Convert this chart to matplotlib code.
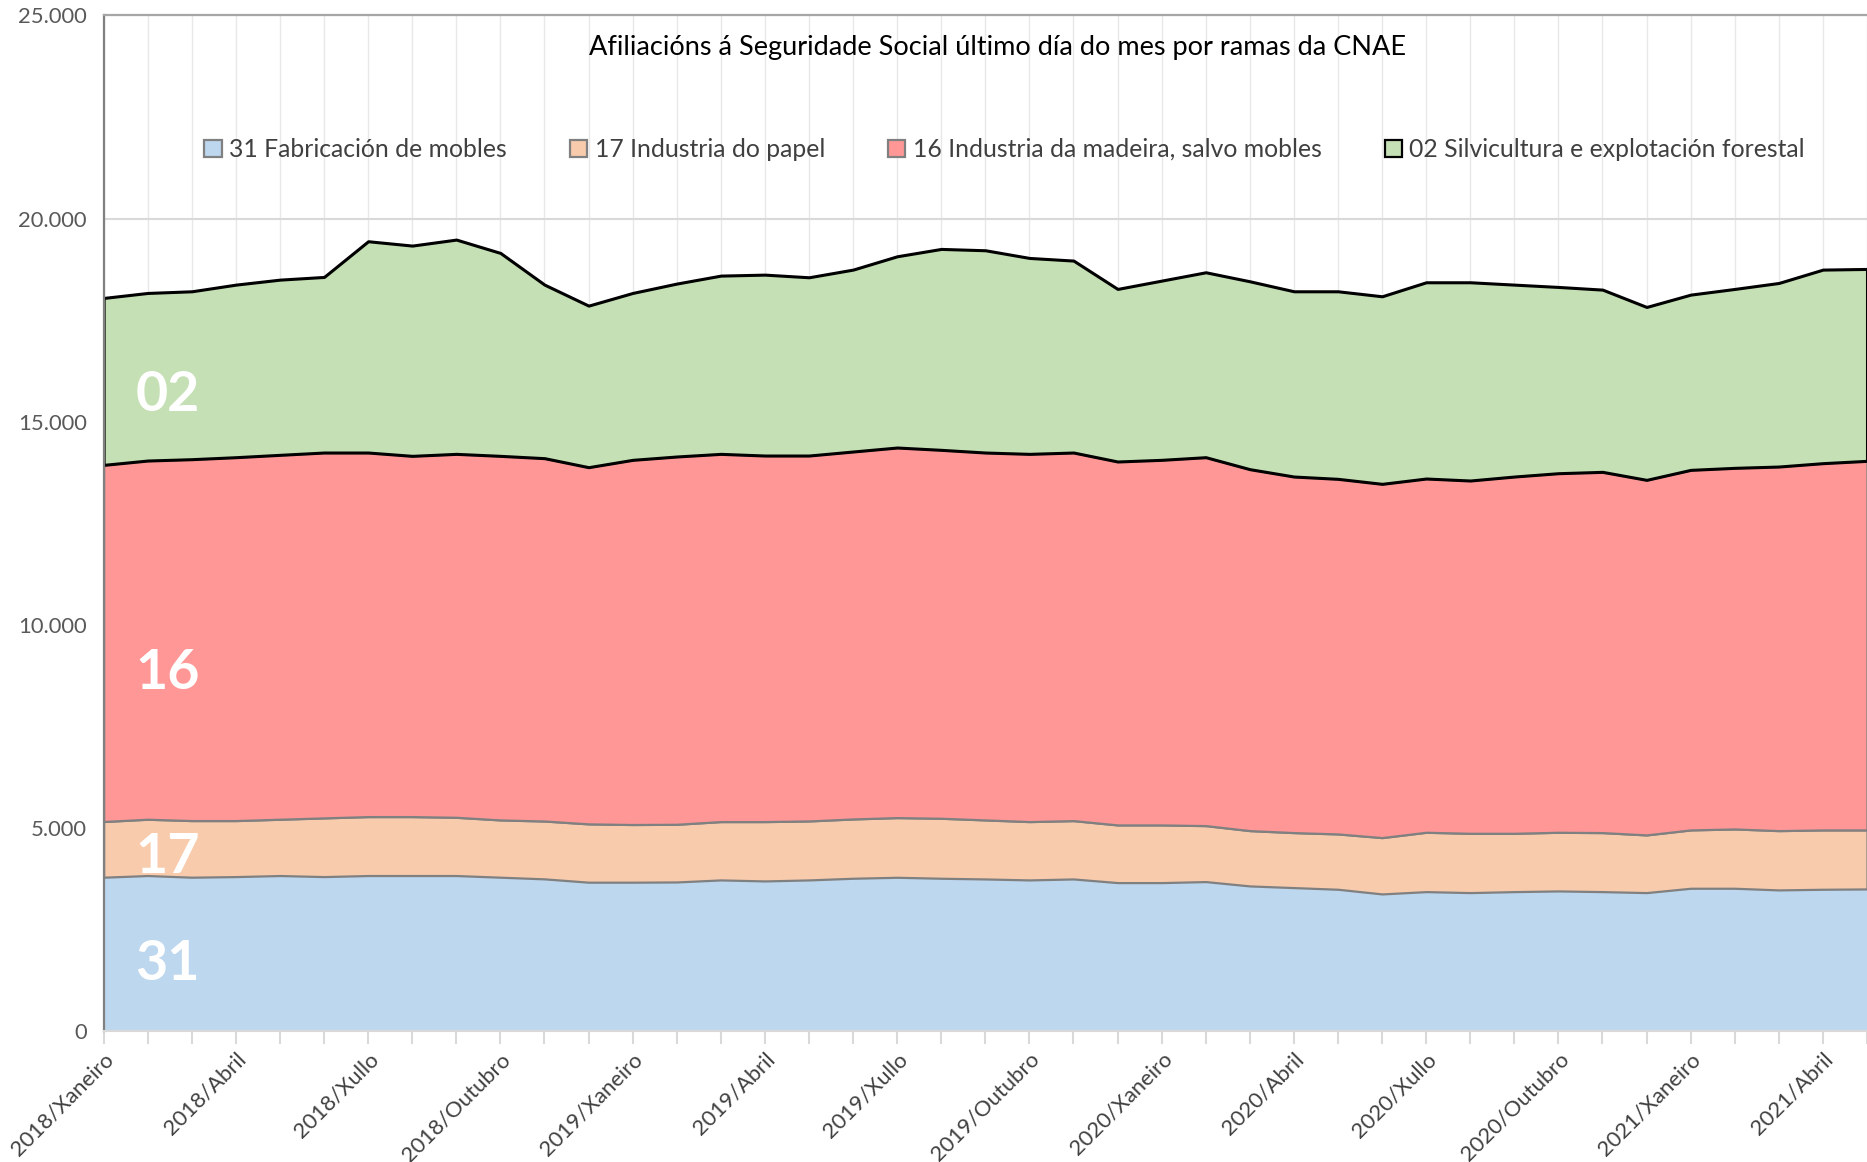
import matplotlib
matplotlib.use("Agg")
import matplotlib.pyplot as plt
from matplotlib.patches import Patch
from matplotlib.ticker import FuncFormatter, FixedLocator
import numpy as np

plt.rcParams['font.family'] = ['Lato', 'DejaVu Sans']

# ---- data -------------------------------------------------------------
years = [2018] * 12 + [2019] * 12 + [2020] * 12 + [2021] * 5
month_names = ["Xaneiro", "Febreiro", "Marzo", "Abril", "Maio", "Xuño",
               "Xullo", "Agosto", "Setembro", "Outubro", "Novembro", "Decembro"]
categories = [f"{y}/{month_names[i % 12]}" for i, y in enumerate(years)]

s31 = [3787, 3828, 3787, 3802, 3828, 3802, 3828, 3828, 3828, 3787, 3746, 3664,
       3664, 3670, 3720, 3695, 3720, 3761, 3785, 3761, 3744, 3720, 3744, 3654,
       3654, 3679, 3572, 3531, 3490, 3375, 3432, 3408, 3432, 3449, 3432, 3408,
       3515, 3515, 3474, 3490, 3498]
s17 = [1371, 1386, 1394, 1379, 1386, 1445, 1451, 1451, 1434, 1410, 1424, 1436,
       1420, 1420, 1436, 1461, 1452, 1460, 1469, 1477, 1453, 1436, 1436, 1420,
       1420, 1378, 1362, 1354, 1362, 1387, 1461, 1460, 1436, 1444, 1453, 1420,
       1436, 1460, 1460, 1461, 1453]
s16 = [8779, 8830, 8896, 8945, 8970, 8994, 8962, 8880, 8946, 8962, 8932, 8780,
       8977, 9053, 9052, 9011, 8995, 9045, 9110, 9069, 9044, 9052, 9061, 8946,
       8987, 9069, 8897, 8765, 8741, 8708, 8708, 8684, 8782, 8839, 8880, 8740,
       8863, 8889, 8962, 9028, 9085]
s02 = [4109, 4125, 4133, 4248, 4313, 4322, 5201, 5176, 5275, 4995, 4272, 3977,
       4108, 4257, 4388, 4453, 4388, 4478, 4708, 4946, 4979, 4823, 4725, 4248,
       4412, 4552, 4625, 4560, 4617, 4617, 4831, 4880, 4724, 4585, 4486, 4256,
       4314, 4404, 4519, 4765, 4724]

series_labels = ["31 Fabricación de mobles", "17 Industria do papel",
                 "16 Industria da madeira, salvo mobles",
                 "02 Silvicultura e explotación forestal"]
short_labels = ["31", "17", "16", "02"]
title = "Afiliacións á Seguridade Social último día do mes por ramas da CNAE"

fills = ["#BDD7EE", "#F8CBAD", "#FF9797", "#C5E0B4"]
edges = ["#808080", "#808080", "#808080", "#000000"]

# ---- figure -----------------------------------------------------------
fig = plt.figure(figsize=(18.67, 11.62), dpi=100)
ax = fig.add_axes([0.0555, 0.1127, 0.9445, 0.8740])

x = np.arange(len(categories))
data = [np.array(s31), np.array(s17), np.array(s16), np.array(s02)]
base = np.zeros(len(x))
for k, d in enumerate(data):
    top = base + d
    if k == 0:
        ax.fill_between(x, base, top, facecolor=fills[k], edgecolor='none', zorder=2)
    else:
        lw = 2.2 if k == 3 else 1.6
        ax.fill_between(x, base, top, facecolor=fills[k], edgecolor=edges[k],
                        linewidth=lw, zorder=2 + k)
    base = top

ax.set_xlim(0, len(x) - 1)
ax.set_ylim(0, 25000)

# grid
ax.set_axisbelow(True)
ax.yaxis.set_major_locator(FixedLocator(np.arange(0, 25001, 5000)))
ax.yaxis.set_major_formatter(FuncFormatter(lambda v, p: f"{int(v):,}".replace(",", ".")))
ax.grid(axis='y', color='#d9d9d9', linewidth=1.5, zorder=0)
for xi in x:
    ax.axvline(xi, color='#e8e8e8', linewidth=1.0, zorder=0)

ax.set_xticks(x)
ax.set_xticklabels([c if i % 3 == 0 else "" for i, c in enumerate(categories)],
                   rotation=45, ha='right', rotation_mode='anchor',
                   fontsize=15.8, color='#404040')
ax.tick_params(axis='x', length=9, width=1.5, color='#d9d9d9', pad=4)
ax.tick_params(axis='y', length=0, labelsize=15.8, labelcolor='#595959', pad=12)

ax.spines['right'].set_visible(False)
ax.spines['left'].set_color('#808080')
ax.spines['left'].set_linewidth(1.6)
ax.spines['top'].set_color('#a6a6a6')
ax.spines['top'].set_linewidth(1.6)
ax.spines['bottom'].set_color('#d9d9d9')
ax.spines['bottom'].set_linewidth(1.5)
for sp in ax.spines.values():
    sp.set_zorder(10)

# title
ax.text(0.507, 0.968, title, transform=ax.transAxes, ha='center', va='center',
        fontsize=19.5, color='#000000', zorder=12)

# legend
handles = [Patch(facecolor=fills[k], edgecolor=edges[k], linewidth=1.6)
           for k in range(4)]
leg = ax.legend(handles, series_labels, ncol=4, loc='center',
                bbox_to_anchor=(0.511, 0.868), frameon=False, fontsize=17.8,
                handlelength=0.7, handleheight=0.7, handletextpad=0.3,
                columnspacing=2.55, labelcolor='#404040')
leg.set_zorder(12)

# in-area labels
label_y = [1641, 4279, 8822, 15650]
for lab, yv in zip(short_labels, label_y):
    ax.text(1.45, yv, lab, ha='center', va='center', fontsize=40,
            fontweight='bold', color='white', zorder=11)

fig.savefig("out.png", dpi=100)
